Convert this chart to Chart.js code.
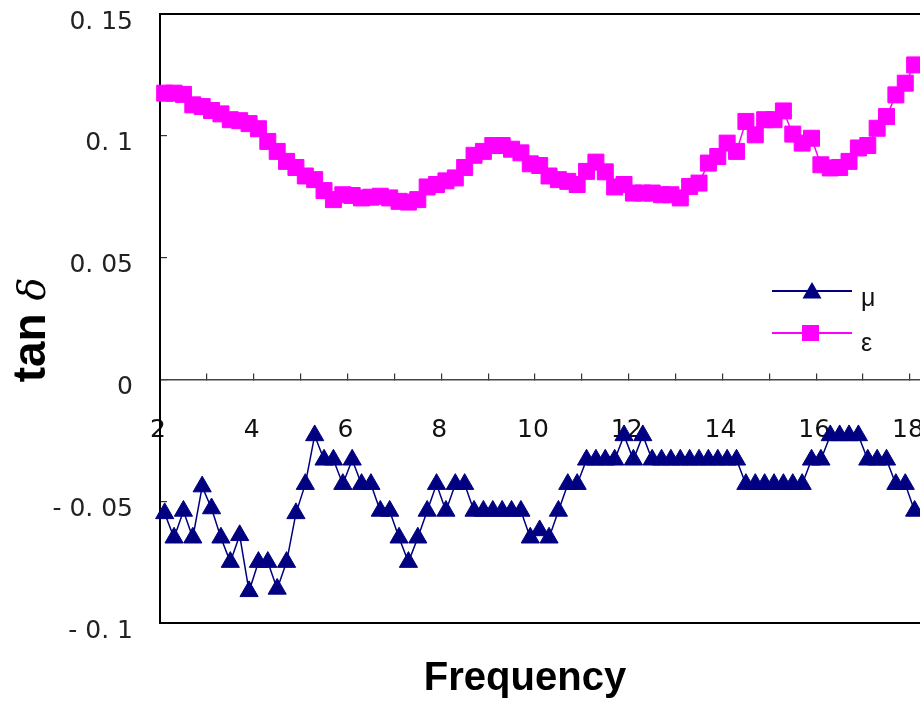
<!DOCTYPE html>
<html>
<head>
<meta charset="utf-8">
<script src="https://cdn.jsdelivr.net/npm/chart.js@4.4.1/dist/chart.umd.min.js"></script>
<style>
  html, body { margin: 0; padding: 0; overflow: hidden; background: #fff; }
  #wrap { position: absolute; left: 0; top: 0; width: 1016px; height: 702px; }
</style>
</head>
<body>
<div id="wrap"><canvas id="chartCanvas" width="1016" height="702"></canvas></div>
<script>
// frequency of each measured point
const frequency = [
  2.1, 2.3, 2.5, 2.7, 2.9, 3.1, 3.3, 3.5, 3.7, 3.9,
  4.1, 4.3, 4.5, 4.7, 4.9, 5.1, 5.3, 5.5, 5.7, 5.9,
  6.1, 6.3, 6.5, 6.7, 6.9, 7.1, 7.3, 7.5, 7.7, 7.9,
  8.1, 8.3, 8.5, 8.7, 8.9, 9.1, 9.3, 9.5, 9.7, 9.9,
  10.1, 10.3, 10.5, 10.7, 10.9, 11.1, 11.3, 11.5, 11.7, 11.9,
  12.1, 12.3, 12.5, 12.7, 12.9, 13.1, 13.3, 13.5, 13.7, 13.9,
  14.1, 14.3, 14.5, 14.7, 14.9, 15.1, 15.3, 15.5, 15.7, 15.9,
  16.1, 16.3, 16.5, 16.7, 16.9, 17.1, 17.3, 17.5, 17.7, 17.9,
  18.1
];

// tan delta of mu
const muValues = [
  -0.055, -0.065, -0.054, -0.065, -0.044, -0.053, -0.065, -0.075, -0.064, -0.087,
  -0.075, -0.075, -0.086, -0.075, -0.055, -0.043, -0.023, -0.033, -0.033, -0.043,
  -0.033, -0.043, -0.043, -0.054, -0.054, -0.065, -0.075, -0.065, -0.054, -0.043,
  -0.054, -0.043, -0.043, -0.054, -0.054, -0.054, -0.054, -0.054, -0.054, -0.065,
  -0.062, -0.065, -0.054, -0.043, -0.043, -0.033, -0.033, -0.033, -0.033, -0.023,
  -0.033, -0.023, -0.033, -0.033, -0.033, -0.033, -0.033, -0.033, -0.033, -0.033,
  -0.033, -0.033, -0.043, -0.043, -0.043, -0.043, -0.043, -0.043, -0.043, -0.033,
  -0.033, -0.023, -0.023, -0.023, -0.023, -0.033, -0.033, -0.033, -0.043, -0.043,
  -0.054
];

// tan delta of epsilon
const epsValues = [
  0.1175, 0.1175, 0.117, 0.1127, 0.112, 0.1104, 0.109, 0.1066, 0.1062, 0.105,
  0.1029, 0.0977, 0.0936, 0.0895, 0.087, 0.0835, 0.082, 0.0775, 0.0738, 0.0758,
  0.0755, 0.0745, 0.0748, 0.0752, 0.0745, 0.0731, 0.0728, 0.0738, 0.079, 0.08,
  0.0815, 0.0827, 0.087, 0.092, 0.0936, 0.096, 0.096, 0.0945, 0.093, 0.0885,
  0.0878, 0.0835, 0.082, 0.0813, 0.08, 0.0854, 0.0892, 0.0852, 0.079, 0.08,
  0.0765, 0.0765, 0.0765, 0.0758, 0.0758, 0.0745, 0.0792, 0.0806, 0.0888, 0.0915,
  0.097, 0.0936, 0.1059, 0.1004, 0.1066, 0.1066, 0.1102, 0.1007, 0.097, 0.099,
  0.0881, 0.0868, 0.087, 0.0895, 0.095, 0.096, 0.1031, 0.1079, 0.1168, 0.1216,
  0.1291
];

const seriesNames = ["μ", "ε"];
const xTickLabels = ["2", "4", "6", "8", "10", "12", "14", "16", "18"];
const yTickLabels = ["- 0. 1", "- 0. 05", "0", "0. 05", "0. 1", "0. 15"];
const xTitle = "Frequency";
const yTitle = ["tan", "δ"];

const navy = "#000080";
const magenta = "#FF00FF";

Chart.defaults.font.family = "'DejaVu Sans', sans-serif";
Chart.defaults.color = "#111";

// plot frame, drawn under the markers
const framePlugin = {
  id: "frame",
  beforeDatasetsDraw(chart) {
    const { ctx, chartArea: a } = chart;
    ctx.save();
    ctx.strokeStyle = "#000";
    ctx.lineWidth = 2;
    ctx.strokeRect(a.left, a.top, a.right - a.left, a.bottom - a.top);
    ctx.restore();
  },
};

// legend box inside the plot
const legendPlugin = {
  id: "insideLegend",
  afterDatasetsDraw(chart) {
    const { ctx } = chart;
    ctx.save();
    // mu row
    ctx.strokeStyle = navy;
    ctx.lineWidth = 2;
    ctx.beginPath();
    ctx.moveTo(772, 291);
    ctx.lineTo(852, 291);
    ctx.stroke();
    ctx.fillStyle = navy;
    ctx.beginPath();
    ctx.moveTo(812, 282);
    ctx.lineTo(821.5, 298.5);
    ctx.lineTo(802.5, 298.5);
    ctx.closePath();
    ctx.fill();
    // eps row
    ctx.strokeStyle = magenta;
    ctx.beginPath();
    ctx.moveTo(772, 333);
    ctx.lineTo(852, 333);
    ctx.stroke();
    ctx.fillStyle = magenta;
    ctx.fillRect(802, 325, 17, 16);

    ctx.fillStyle = "#111";
    ctx.font = "25px 'Liberation Sans', Arial, sans-serif";
    ctx.textAlign = "left";
    ctx.textBaseline = "alphabetic";
    ctx.fillText(seriesNames[0], 861, 306);
    ctx.fillText(seriesNames[1], 861, 351);
    ctx.restore();
  },
};

// axis titles
const titlePlugin = {
  id: "axisTitles",
  afterDraw(chart) {
    const { ctx } = chart;
    ctx.save();
    ctx.fillStyle = "#000";
    ctx.font = "bold 40px 'Liberation Sans', Arial, sans-serif";
    ctx.textAlign = "center";
    ctx.textBaseline = "middle";
    ctx.fillText(xTitle, 525, 679);

    ctx.translate(29, 330);
    ctx.rotate(-Math.PI / 2);
    const f1 = "bold 46px 'Liberation Sans', Arial, sans-serif";
    const f2 = "italic 38px 'DejaVu Serif', serif";
    ctx.font = f1;
    const w1 = ctx.measureText(yTitle[0] + " ").width;
    ctx.font = f2;
    const w2 = ctx.measureText(yTitle[1]).width;
    const x0 = -(w1 + w2) / 2;
    ctx.textAlign = "left";
    ctx.textBaseline = "alphabetic";
    ctx.font = f1;
    ctx.fillText(yTitle[0], x0, 16);
    ctx.font = f2;
    ctx.fillText(yTitle[1], x0 + w1, 16);
    ctx.restore();
  },
};

const ctx = document.getElementById("chartCanvas").getContext("2d");

new Chart(ctx, {
  type: "line",
  data: {
    datasets: [
      {
        label: seriesNames[0],
        data: frequency.map((f, i) => ({ x: f, y: muValues[i] })),
        borderColor: navy,
        backgroundColor: navy,
        borderWidth: 1.5,
        pointStyle: "triangle",
        pointRadius: 10.5,
        pointBorderWidth: 1,
        pointBorderColor: navy,
        pointBackgroundColor: navy,
        tension: 0,
        clip: false,
      },
      {
        label: seriesNames[1],
        data: frequency.map((f, i) => ({ x: f, y: epsValues[i] })),
        borderColor: magenta,
        backgroundColor: magenta,
        borderWidth: 1.5,
        pointStyle: "rect",
        pointRadius: 11.3,
        pointBorderWidth: 1,
        pointBorderColor: magenta,
        pointBackgroundColor: magenta,
        tension: 0,
        clip: false,
      },
    ],
  },
  options: {
    responsive: false,
    animation: false,
    layout: { padding: { left: 0, top: 14, right: 10, bottom: 79 } },
    plugins: {
      legend: { display: false },
      tooltip: { enabled: false },
    },
    scales: {
      x: {
        type: "linear",
        position: { y: 0 },
        min: 2,
        max: 20,
        border: { display: true, color: "#444", width: 1.5 },
        grid: { drawOnChartArea: false, drawTicks: true, tickLength: -7, color: "#333", lineWidth: 1.2 },
        ticks: {
          stepSize: 1,
          autoSkip: false,
          maxRotation: 0,
          padding: 43,
          labelOffset: -2,
          font: { size: 25 },
          color: "#111",
          callback: (v) => (xTickLabels.includes(String(v)) ? String(v) : ""),
        },
        afterFit(scale) {
          scale.paddingLeft = 0;
          scale.paddingRight = 0;
        },
      },
      y: {
        min: -0.1,
        max: 0.15,
        border: { display: false },
        grid: { drawOnChartArea: false, drawTicks: true, tickLength: -7, color: "#333", lineWidth: 1.2 },
        ticks: {
          stepSize: 0.05,
          padding: 34,
          labelOffset: 8,
          font: { size: 25 },
          color: "#222",
          callback: (v, i) => yTickLabels[i],
        },
        afterFit(scale) {
          scale.width = 160;
          scale.paddingTop = 0;
          scale.paddingBottom = 0;
        },
      },
    },
  },
  plugins: [framePlugin, legendPlugin, titlePlugin],
});
</script>
</body>
</html>
